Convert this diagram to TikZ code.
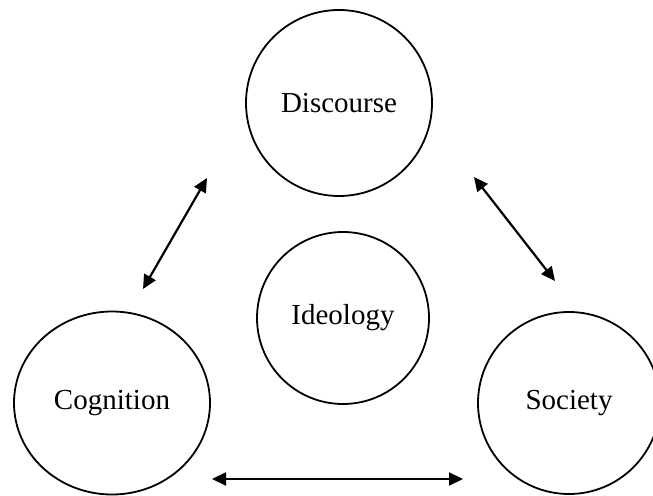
\documentclass[tikz,border=0pt]{standalone}
\usepackage{fontspec}
\setmainfont{Liberation Serif}
\usetikzlibrary{arrows.meta,shapes.geometric}
\tikzset{>={Triangle[length=7pt,width=6.5pt]}}
\tikzset{topic/.style={circle,draw,line width=0.9pt,inner sep=0pt,font=\fontsize{14.5}{16}\selectfont}}

\begin{document}
\begin{tikzpicture}[x=0.5pt,y=-0.5pt]
  \useasboundingbox (0,0) rectangle (653,496);
  \node[topic,minimum size=93pt] (disc) at (339,103) {Discourse};
  \node[topic,minimum size=86pt] (ideo) at (343,318) {Ideology};
  \node[topic,ellipse,minimum width=98pt,minimum height=91.5pt] (cog) at (112,403) {Cognition};
  \node[topic,minimum size=91pt] (soc) at (569,403) {Society};
  \coordinate (dl) at (207,178);
  \coordinate (cl) at (143,289);
  \coordinate (dr) at (474,177);
  \coordinate (sr) at (555,281);
  \coordinate (cb) at (212,479);
  \coordinate (sb) at (463,479);
  \draw[<->,line width=1.1pt] (dl) -- (cl);
  \draw[<->,line width=1.1pt] (dr) -- (sr);
  \draw[<->,line width=1.1pt] (cb) -- (sb);
\end{tikzpicture}
\end{document}
